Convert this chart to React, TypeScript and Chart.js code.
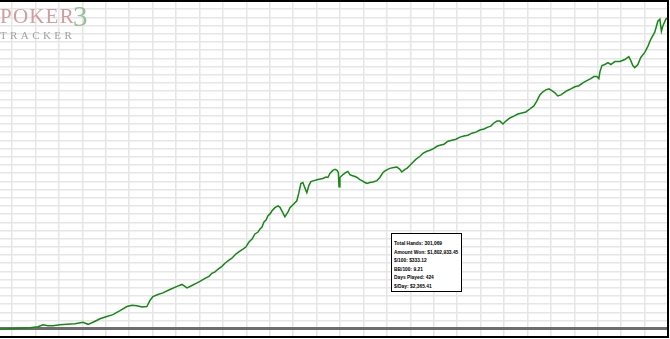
import React, { useEffect, useRef } from 'react';
import { Chart, registerables } from 'chart.js';

Chart.register(...registerables);

// Cumulative hands played (thousands)
const HANDS_K = [
  0, 4.5, 9.0, 13.5, 17.1, 19.4, 21.6, 23.9, 27.0, 30.2, 33.8, 37.4, 39.7, 42.4, 45.1, 47.8, 50.9, 54.1, 57.2, 59.5,
  61.7, 64.0, 66.2, 67.6, 68.9, 71.2, 73.4, 76.6, 79.8, 82.0, 84.3, 86.5, 88.8, 90.1, 92.4, 94.2, 95.5, 96.9, 98.2, 100.0,
  101.4, 103.2, 104.5, 106.3, 108.1, 109.5, 110.8, 112.2, 113.6, 114.9, 116.3, 117.2, 118.1, 119.0, 119.9, 120.8, 121.7, 122.6, 123.9, 125.3,
  126.2, 127.5, 128.4, 129.8, 130.7, 132.5, 133.8, 134.7, 135.6, 136.5, 137.4, 138.3, 139.2, 140.1, 141.5, 143.3, 145.5, 146.9, 147.8, 148.7,
  150.0, 151.0, 151.9, 152.5, 152.8, 153.2, 154.6, 155.9, 156.8, 157.7, 158.6, 160.0, 160.9, 162.2, 163.1, 164.5, 165.4, 166.7, 168.1, 169.9,
  171.2, 172.6, 173.9, 175.7, 177.5, 178.9, 180.2, 181.1, 182.5, 183.4, 184.7, 186.1, 187.4, 189.3, 190.6, 192.4, 193.8, 195.6, 196.9, 198.3,
  200.1, 201.9, 203.7, 205.5, 207.3, 209.1, 210.9, 212.7, 214.5, 216.3, 218.1, 219.9, 221.2, 222.6, 224.0, 225.3, 226.7, 228.0, 229.8, 231.6,
  233.4, 235.2, 237.0, 238.8, 240.6, 242.0, 243.3, 244.7, 246.0, 247.4, 248.7, 250.1, 251.4, 252.8, 254.1, 255.5, 257.3, 259.1, 260.9, 262.7,
  264.5, 266.3, 267.7, 269.0, 269.9, 270.4, 271.3, 272.6, 274.0, 275.3, 277.1, 279.4, 281.6, 283.4, 284.3, 285.2, 286.1, 287.5, 288.8, 290.6,
  292.0, 293.3, 295.1, 296.5, 297.4, 298.1, 298.7, 300.1, 301.069,
];

// Cumulative amount won (thousands of $)
const WON_K = [
  -3, 0, 3, 6, 12, 23, 18, 18, 23, 26, 29, 38, 26, 41, 58, 70, 82, 105, 129, 137,
  134, 126, 129, 164, 187, 199, 208, 228, 246, 257, 237, 251, 266, 275, 292, 304, 322, 330, 345, 362,
  380, 398, 409, 433, 450, 462, 474, 503, 520, 550, 561, 579, 590, 620, 631, 655, 666, 684, 702, 713,
  704, 672, 649, 678, 702, 725, 742, 789, 842, 848, 818, 789, 830, 853, 859, 865, 871, 880, 877, 900,
  918, 924, 918, 906, 824, 877, 894, 906, 912, 894, 889, 883, 877, 865, 859, 848, 842, 848, 851, 859,
  877, 906, 918, 930, 935, 938, 924, 909, 924, 930, 947, 965, 982, 1000, 1017, 1029, 1035, 1046, 1058, 1064,
  1070, 1087, 1093, 1099, 1111, 1117, 1122, 1134, 1140, 1152, 1158, 1169, 1175, 1193, 1204, 1204, 1187, 1204, 1222, 1233,
  1245, 1251, 1257, 1274, 1292, 1321, 1356, 1374, 1385, 1391, 1380, 1368, 1350, 1356, 1368, 1380, 1391, 1403, 1409, 1426,
  1438, 1450, 1462, 1462, 1450, 1491, 1526, 1532, 1543, 1532, 1549, 1549, 1561, 1578, 1555, 1526, 1514, 1532, 1573, 1602,
  1637, 1678, 1719, 1783, 1795, 1725, 1754, 1795, 1802.9,
];

const STATS_LINES = [
  'Total Hands: 301,069',
  'Amount Won: $1,802,933.45',
  '$/100: $333.12',
  'BB/100: 9.21',
  'Days Played: 424',
  '$/Day: $2,365.41',
];

const X_MAX = 301.069;
const X_GRID_START = 5.41;
const X_GRID_STEP = 10.56;
const Y_STEP = 47.5;
const Y_MIN_STEPS = -1;
const Y_MAX_STEPS = 40;

const borderPlugin = {
  id: 'frameBorder',
  afterDraw(chart: any) {
    const { ctx, chartArea } = chart;
    ctx.save();
    ctx.strokeStyle = '#000';
    ctx.lineWidth = 2;
    ctx.beginPath();
    ctx.moveTo(0, chartArea.top);
    ctx.lineTo(chartArea.right, chartArea.top);
    ctx.lineTo(chartArea.right, chartArea.bottom);
    ctx.lineTo(0, chartArea.bottom);
    ctx.stroke();
    ctx.restore();
  },
};

export default function App() {
  const ref = useRef<HTMLCanvasElement | null>(null);

  useEffect(() => {
    if (!ref.current) return;
    const points = HANDS_K.map((h, i) => ({ x: h, y: WON_K[i] }));
    const chart = new Chart(ref.current, {
      type: 'line',
      data: {
        datasets: [
          {
            data: points,
            borderColor: '#168816',
            borderWidth: 1.5,
            pointRadius: 0,
            tension: 0,
            fill: false,
          },
        ],
      },
      options: {
        animation: false,
        responsive: false,
        maintainAspectRatio: false,
        layout: { padding: { top: 1, bottom: 2, left: 0, right: 2 } },
        plugins: { legend: { display: false }, tooltip: { enabled: false } },
        scales: {
          x: {
            type: 'linear',
            min: 0,
            max: X_MAX,
            afterBuildTicks: (s: any) => {
              const t: any[] = [];
              for (let v = X_GRID_START; v < X_MAX; v += X_GRID_STEP) t.push({ value: v });
              s.ticks = t;
            },
            ticks: { display: false },
            grid: { color: '#e6e6e6', lineWidth: 1.5, drawTicks: false },
            border: { display: false },
          },
          y: {
            type: 'linear',
            min: Y_MIN_STEPS * Y_STEP,
            max: Y_MAX_STEPS * Y_STEP,
            afterBuildTicks: (s: any) => {
              const t: any[] = [];
              for (let k = Y_MIN_STEPS; k <= Y_MAX_STEPS; k++) t.push({ value: k * Y_STEP });
              s.ticks = t;
            },
            ticks: { display: false },
            grid: {
              color: (c: any) => (c.tick && c.tick.value === 0 ? '#6e6e6e' : '#e6e6e6'),
              lineWidth: (c: any) => (c.tick && c.tick.value === 0 ? 3 : 1.5),
              drawTicks: false,
            },
            border: { display: false },
          },
        },
      },
      plugins: [borderPlugin],
    });
    return () => chart.destroy();
  }, []);

  return (
    <div style={{ position: 'fixed', left: 0, top: 0, width: 670, height: 339, background: '#fff' }}>
      <canvas ref={ref} width={670} height={339} style={{ position: 'absolute', left: 0, top: 0 }} />
      <div
        style={{
          position: 'absolute',
          left: 0,
          top: 6,
          fontFamily: '"Liberation Serif", "DejaVu Serif", serif',
          lineHeight: 1,
          pointerEvents: 'none',
          whiteSpace: 'nowrap',
        }}
      >
        <div style={{ position: 'relative', height: 22 }}>
          <span style={{ fontSize: 21, color: '#cf9e9e', letterSpacing: 1.2, position: 'absolute', left: 0, top: 0 }}>
            POKER
          </span>
          <span style={{ fontSize: 29, color: '#95c195', position: 'absolute', left: 73, top: -4 }}>3</span>
        </div>
        <div style={{ fontSize: 11, color: '#a3a3a3', letterSpacing: 3.4, marginTop: 2 }}>TRACKER</div>
      </div>
      <div
        style={{
          position: 'absolute',
          left: 391,
          top: 233,
          width: 67,
          height: 57,
          border: '1px solid #000',
          background: '#fff',
          boxSizing: 'content-box',
          padding: '0 0 0 2px',
          fontFamily: '"Liberation Sans", Arial, sans-serif',
          fontSize: 5.8,
          fontWeight: 'bold',
          color: '#000',
          whiteSpace: 'nowrap',
          overflow: 'hidden',
        }}
      >
        <div style={{ marginTop: 5, transform: 'scaleX(0.84)', transformOrigin: 'left top' }}>
          {STATS_LINES.map((s) => (
            <div key={s} style={{ height: 8.6, lineHeight: '8.6px' }}>
              {s}
            </div>
          ))}
        </div>
      </div>
    </div>
  );
}
